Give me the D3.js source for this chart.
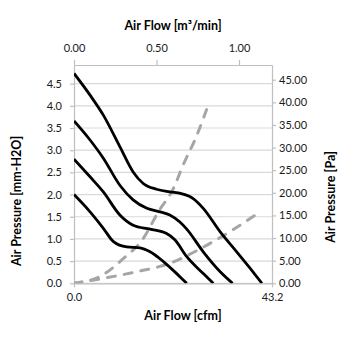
<!DOCTYPE html>
<html><head><meta charset="utf-8">
<script src="https://cdn.jsdelivr.net/npm/d3@7"></script>
<style>
html,body{margin:0;padding:0;background:#fff;}
text{font-family:Lato,"Open Sans",sans-serif;}
</style></head><body>
<svg id="c" width="355" height="355"></svg>
<script>
// Fan curves: [cfm, mm-H2O]
const curveA = [[0,4.73],[3.5,4.24],[6.4,3.79],[10.0,3.08],[12.9,2.51],[15.1,2.25],[18.0,2.12],[20.9,2.06],[23.4,2.02],[26.0,1.91],[28.2,1.69],[31.9,1.16],[35.5,0.71],[38.4,0.34],[41.0,0]];
const curveB = [[0,3.66],[3.5,3.23],[6.4,2.82],[10.0,2.21],[12.9,1.88],[15.9,1.69],[18.8,1.61],[20.9,1.54],[23.1,1.38],[24.6,1.22],[28.2,0.71],[31.9,0.26],[34.6,0]];
const curveC = [[0,2.80],[3.5,2.40],[6.4,2.06],[10.0,1.54],[12.9,1.31],[16.6,1.22],[20.2,1.12],[22.0,0.98],[24.6,0.60],[28.2,0.22],[30.4,0]];
const curveD = [[0,2.00],[3.5,1.61],[6.4,1.24],[8.6,0.94],[11.5,0.82],[14.4,0.80],[16.6,0.71],[19.5,0.49],[23.1,0.15],[24.6,0]];
// System impedance curves: [cfm, Pa]
const impedHigh = [[0,0],[6.0,1.7],[10.8,5.5],[15.1,9.9],[18.4,15.8],[21.7,21.0],[23.8,26.1],[26.8,32.7],[29.3,39.4]];
const impedLow = [[0,0],[6.4,1.1],[13.7,2.56],[20.9,4.4],[28.2,8.0],[34.0,11.4],[40.2,15.5]];
// Axis ticks
const leftTicks = [0,0.5,1.0,1.5,2.0,2.5,3.0,3.5,4.0,4.5];
const rightTicks = [0,5,10,15,20,25,30,35,40,45];
const topTicks = [0,0.5,1.0];
const bottomTicks = [0,43.2];
const yMaxMM = 4.92, mmToPa = 9.80665, xMaxCfm = 43.2, xMaxM3 = 1.2;

const svg = d3.select("#c");
const L=74,R=272,T=65,B=283.3;
const x = d3.scaleLinear().domain([0,xMaxCfm]).range([L,R]);
const xTop = d3.scaleLinear().domain([0,xMaxM3]).range([L,R]);
const y = d3.scaleLinear().domain([0,yMaxMM]).range([B,T]);
const yR = d3.scaleLinear().domain([0,yMaxMM*mmToPa]).range([B,T]);

const gridC="#d9d9d9", axC="#bfbfbf", txtC="#1a1a1a";
// gridlines
svg.append("g").selectAll("line").data(leftTicks).join("line")
  .attr("x1",L).attr("x2",R).attr("y1",d=>y(d)).attr("y2",d=>y(d))
  .attr("stroke",gridC).attr("stroke-width",1.2);

function styleAxis(g){
  g.selectAll(".domain").attr("stroke",axC).attr("stroke-width",1.2);
  g.selectAll(".tick line").attr("stroke",axC).attr("stroke-width",1.2);
  g.selectAll(".tick text").attr("fill",txtC).style("font-size","11px").style("font-family","Lato");
}
svg.append("g").attr("transform",`translate(${L},0)`)
  .call(d3.axisLeft(y).tickValues(leftTicks).tickFormat(d3.format(".1f")).tickSize(4).tickSizeOuter(0).tickPadding(8))
  .call(styleAxis);
svg.append("g").attr("transform",`translate(${R},0)`)
  .call(d3.axisRight(yR).tickValues(rightTicks).tickFormat(d3.format(".2f")).tickSize(4).tickSizeOuter(0).tickPadding(3))
  .call(styleAxis);
svg.append("g").attr("transform",`translate(0,${T})`)
  .call(d3.axisTop(xTop).tickValues(topTicks).tickFormat(d3.format(".2f")).tickSize(5).tickSizeOuter(0).tickPadding(8))
  .call(styleAxis);
svg.append("g").attr("transform",`translate(0,${B})`)
  .call(d3.axisBottom(x).tickValues(bottomTicks).tickFormat(d3.format(".1f")).tickSize(4).tickSizeOuter(0).tickPadding(6))
  .call(styleAxis);

const clip = svg.append("defs").append("clipPath").attr("id","pc").append("rect")
  .attr("x",L).attr("y",T).attr("width",R-L).attr("height",B-T);
const plot = svg.append("g").attr("clip-path","url(#pc)");

const lineMM = d3.line().x(d=>x(d[0])).y(d=>y(d[1])).curve(d3.curveMonotoneX);
const linePa = d3.line().x(d=>x(d[0])).y(d=>yR(d[1])).curve(d3.curveMonotoneX);

[impedHigh,impedLow].forEach(s=>{
  plot.append("path").attr("d",linePa(s)).attr("fill","none")
    .attr("stroke","#a6a6a6").attr("stroke-width",3).attr("stroke-dasharray","8,9").attr("stroke-linecap","round");
});
[curveA,curveB,curveC,curveD].forEach(s=>{
  plot.append("path").attr("d",lineMM(s)).attr("fill","none")
    .attr("stroke","#000").attr("stroke-width",2.8).attr("stroke-linejoin","round");
});

// titles
svg.append("text").attr("x",173).attr("y",30).attr("text-anchor","middle")
  .style("font-size","12.5px").style("font-weight","bold").attr("fill","#000").text("Air Flow [m³/min]");
svg.append("text").attr("x",183).attr("y",320).attr("text-anchor","middle")
  .style("font-size","12.5px").style("font-weight","bold").attr("fill","#000").text("Air Flow [cfm]");
svg.append("text").attr("transform","translate(21,201) rotate(-90)").attr("text-anchor","middle")
  .style("font-size","12.5px").style("font-weight","bold").attr("fill","#000").text("Air Pressure [mm-H2O]");
svg.append("text").attr("transform","translate(335,197) rotate(-90)").attr("text-anchor","middle")
  .style("font-size","12.5px").style("font-weight","bold").attr("fill","#000").text("Air Pressure [Pa]");
</script>
</body></html>
